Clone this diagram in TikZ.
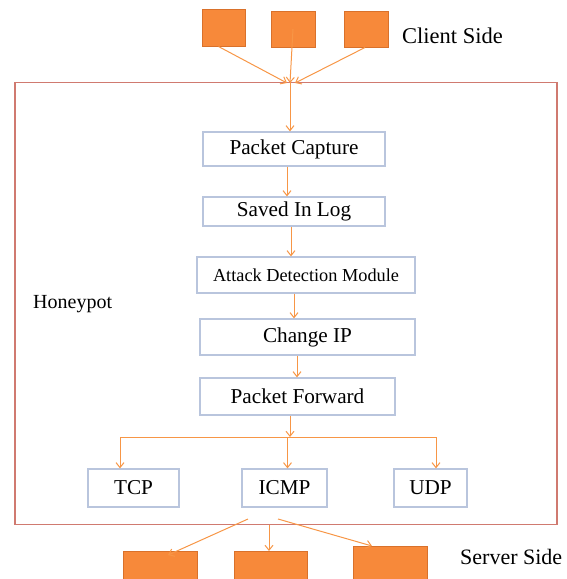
\documentclass[tikz,border=0pt]{standalone}
\usepackage{fontspec}
\setmainfont{Liberation Serif}
\usetikzlibrary{arrows.meta}
\definecolor{orfill}{HTML}{F7893A}
\definecolor{ordraw}{HTML}{D9712B}
\definecolor{arr}{HTML}{F79646}
\definecolor{boxb}{HTML}{B9C5DD}
\definecolor{frame}{HTML}{D07A70}
\tikzset{
  sq/.style={draw=ordraw, fill=orfill, line width=1pt, inner sep=0pt},
  proc/.style={draw=boxb, line width=1.2pt, fill=white, inner sep=0pt, font=\fontsize{21.2}{24}\selectfont},
  arw/.style={draw=arr, line width=1pt, -{Straight Barb[length=5pt,width=8pt]}},
  ln/.style={draw=arr, line width=1pt},
  lbl/.style={font=\fontsize{20}{24}\selectfont, inner sep=0pt, anchor=west},
}
\begin{document}
\begin{tikzpicture}[x=1pt,y=-1pt]
\useasboundingbox (0,0) rectangle (566,579);
% frame
\node[draw=frame, line width=1.6pt, minimum width=542pt, minimum height=442pt, inner sep=0pt] (frame) at (286,303.5) {};
% client boxes
\node[sq, minimum width=43pt, minimum height=37pt] (c1) at (223.5,27.5) {};
\node[sq, minimum width=44pt, minimum height=36pt] (c2) at (293,29) {};
\node[sq, minimum width=44pt, minimum height=36pt] (c3) at (366,29) {};
\node[lbl, font=\fontsize{22.5}{26}\selectfont] (cs) at (402,36) {Client Side};
\coordinate (top) at (290,83);
% process boxes
\node[proc, minimum width=182pt, minimum height=34pt] (pc) at (294,149) {Packet Capture};
\node[proc, minimum width=182pt, minimum height=29pt] (sil) at (294,211.5) {Saved In Log};
\node[proc, minimum width=218pt, minimum height=36pt, font=\fontsize{18.3}{21}\selectfont] (adm) at (306,275) {Attack Detection Module};
\node[proc, minimum width=215pt, minimum height=36pt] (cip) at (307.5,337) {Change IP};
\node[proc, minimum width=195pt, minimum height=37pt] (pf) at (297.5,396.5) {Packet Forward};
\node[lbl] (hp) at (33,304) {Honeypot};
% protocol boxes
\node[proc, minimum width=91pt, minimum height=38pt] (tcp) at (133.5,488) {TCP};
\node[proc, minimum width=85pt, minimum height=38pt] (icmp) at (284.5,488) {ICMP};
\node[proc, minimum width=73pt, minimum height=38pt] (udp) at (430.5,488) {UDP};
% server boxes
\node[sq, minimum width=74pt, minimum height=40pt, anchor=north] (s1) at (160,551) {};
\node[sq, minimum width=73pt, minimum height=40pt, anchor=north] (s2) at (270.5,551) {};
\node[sq, minimum width=74pt, minimum height=45pt, anchor=north] (s3) at (390,546) {};
\node[lbl, font=\fontsize{22}{26}\selectfont] (ss) at (460,557) {Server Side};
% client arrows
\draw[arw] ([xshift=-5pt]c1.south) -- ([xshift=-3pt]top);
\draw[arw] (c2.center) -- (top);
\draw[arw] ([xshift=-1pt]c3.south) -- ([xshift=5pt]top);
\draw[arw] ([yshift=2pt]top) -- (pc.north -| top);
% process arrows
\draw[arw] (pc.south -| 287,0) -- (sil.north -| 287,0);
\draw[arw] (sil.south -| 291,0) -- (adm.north -| 291,0);
\draw[arw] (adm.south -| 294,0) -- (cip.north -| 294,0);
\draw[arw] (cip.south -| 297,0) -- (pf.north -| 297,0);
% split
\coordinate (sp) at (290,437);
\coordinate (spl) at (120,437);
\coordinate (spr) at (436,437);
\draw[arw] (pf.south -| sp) -- (sp);
\draw[ln] (spl) -- (spr);
\draw[arw] (spl) -- (tcp.north -| spl);
\draw[arw] ([xshift=3pt]icmp.north |- sp) -- ([xshift=3pt]icmp.north);
\draw[arw] (spr) -- (udp.north -| spr);
% server arrows
\coordinate (o1) at (248,519);
\coordinate (o2) at (269,525);
\coordinate (o3) at (278,519);
\draw[arw] (o1) -- ([xshift=8pt,yshift=-4pt]s1.north);
\draw[arw] (o2) -- (s2.north -| o2);
\draw[arw] (o3) -- ([xshift=-18pt]s3.north);
\end{tikzpicture}
\end{document}
